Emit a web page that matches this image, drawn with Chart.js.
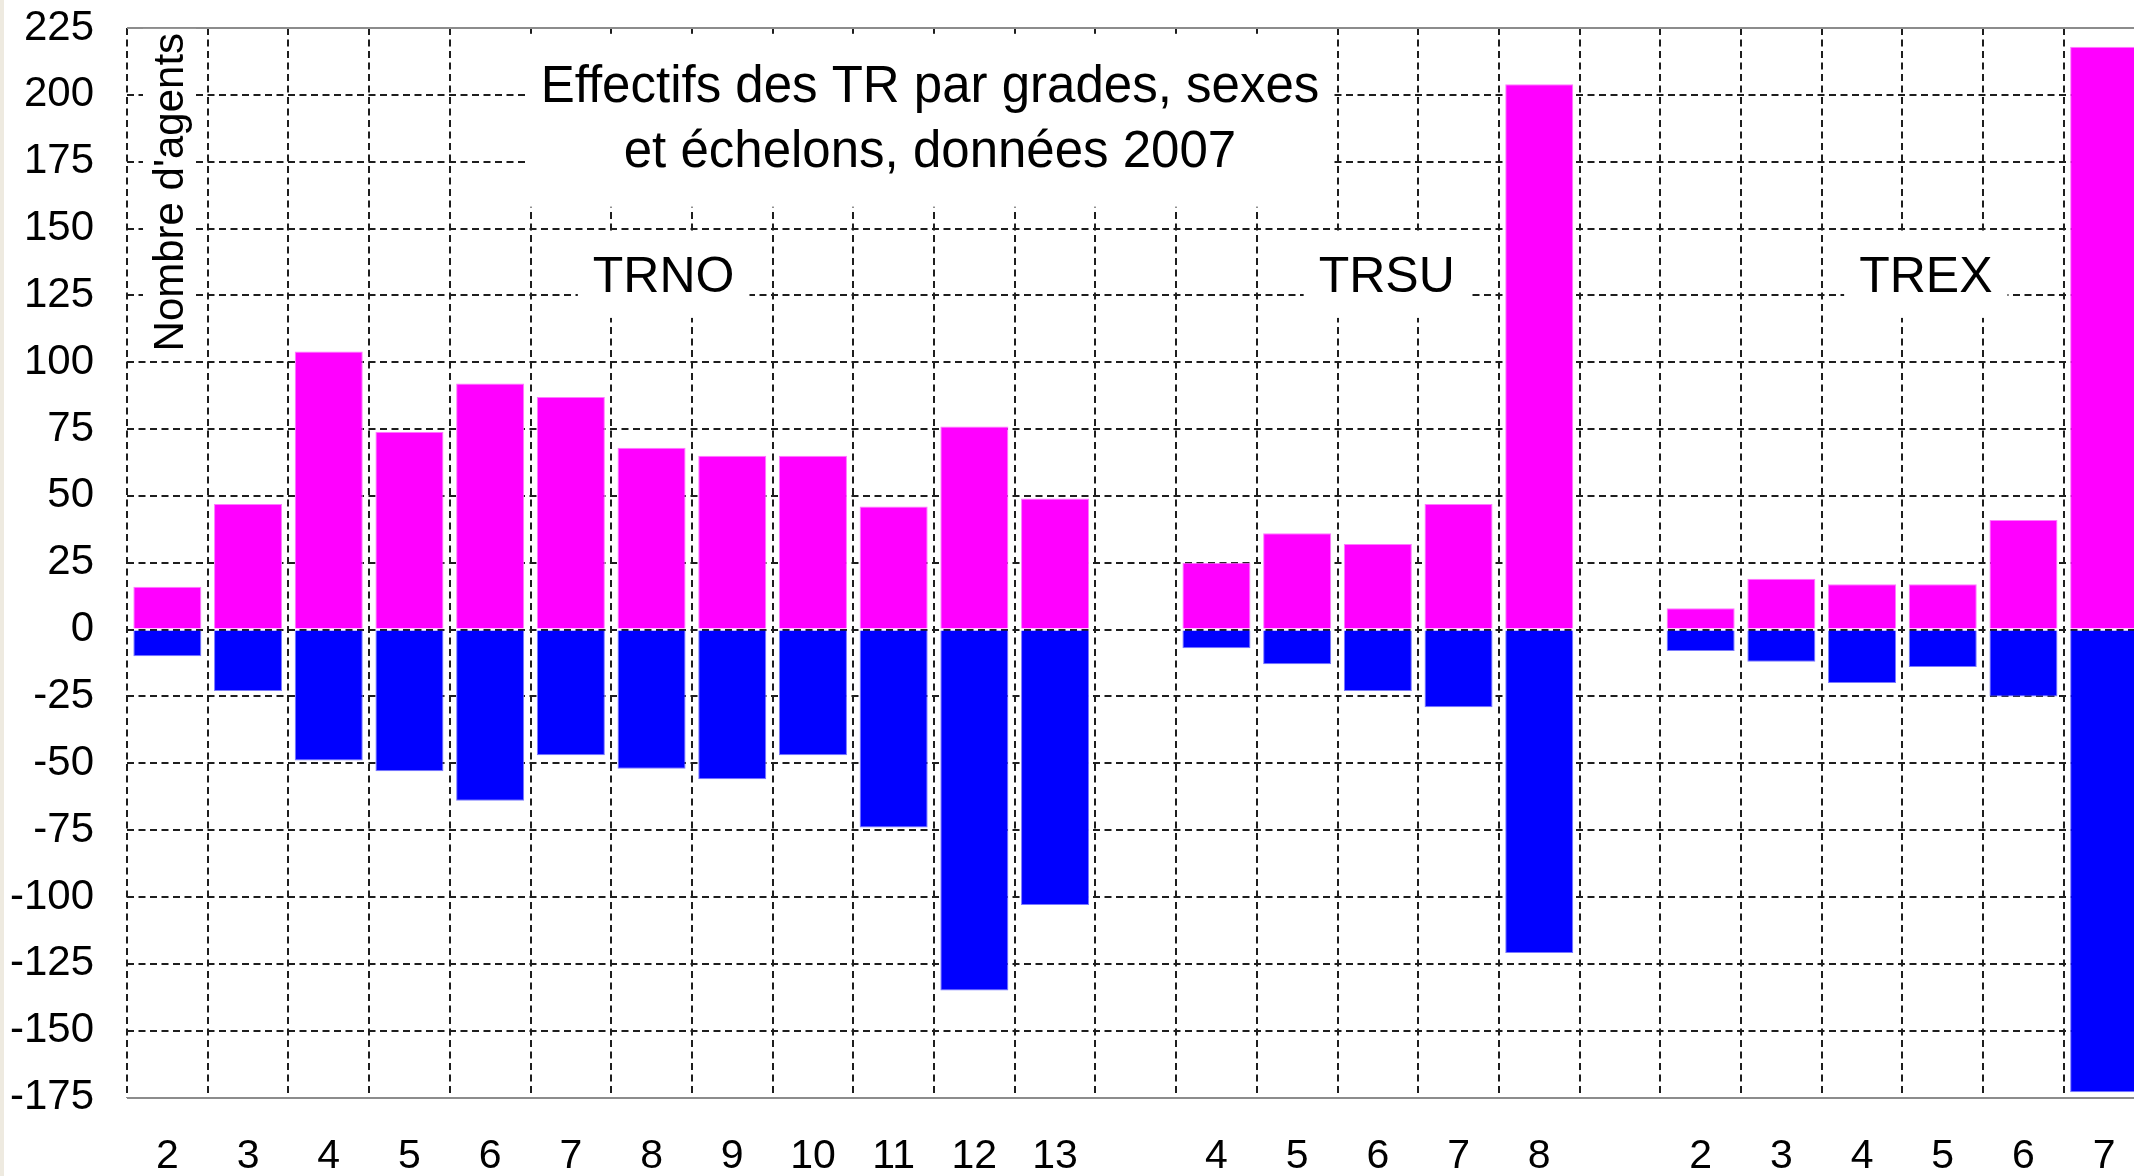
<!DOCTYPE html>
<html><head><meta charset="utf-8">
<script src="https://cdn.jsdelivr.net/npm/chart.js@4.4.1/dist/chart.umd.min.js"></script>
<style>
html,body{margin:0;padding:0;background:#fff;overflow:hidden;width:2134px;height:1176px;}
#strip{position:absolute;left:0;top:0;width:4px;height:1176px;background:#EEEAE0;}
#wrap{position:absolute;left:0;top:0;width:2150px;height:1176px;}
</style></head><body>
<div id="strip"></div>
<div id="wrap"><canvas id="c" width="2150" height="1176"></canvas></div>
<script>
// ---- data ----
const trnoGrades = ['2','3','4','5','6','7','8','9','10','11','12','13'];
const trsuGrades = ['4','5','6','7','8'];
const trexGrades = ['2','3','4','5','6','7'];
const trnoFemmes = [16, 47, 104, 74, 92, 87, 68, 65, 65, 46, 76, 49];
const trnoHommes = [-10, -23, -49, -53, -64, -47, -52, -56, -47, -74, -135, -103];
const trsuFemmes = [25, 36, 32, 47, 204];
const trsuHommes = [-7, -13, -23, -29, -121];
const trexFemmes = [8, 19, 17, 17, 41, 218];
const trexHommes = [-8, -12, -20, -14, -25, -173];
const groupNames = ['TRNO', 'TRSU', 'TREX'];
const titleLines = ['Effectifs des TR par grades, sexes', 'et échelons, données 2007'];
const yAxisTitle = "Nombre d'agents";
const yMin = -175, yMax = 225, yStep = 25;

// ---- build category table (one empty slot between groups) ----
const labels = [...trnoGrades, '', ...trsuGrades, '', ...trexGrades];
const femmes = [...trnoFemmes, null, ...trsuFemmes, null, ...trexFemmes];
const hommes = [...trnoHommes, null, ...trsuHommes, null, ...trexHommes];

const FONT = '"Liberation Sans", Arial, Helvetica, sans-serif';
const GRID = '#1e1e1e';
const DASH = [7, 4.5];

// annotation placement (category index / axis value)
const titlePos = {x: 9.45, y1: 197.4, y2: 173.1};
const groupPos = [{x: 6.15}, {x: 15.11}, {x: 21.79}];
const groupBaseline = 126.3;

const overlay = {
  id: 'overlay',
  beforeDatasetsDraw(chart) {
    const {ctx, scales: {x, y}, chartArea} = chart;
    ctx.save();
    // title block
    ctx.font = '51px ' + FONT;
    ctx.textAlign = 'center';
    ctx.textBaseline = 'alphabetic';
    const cx = x.getPixelForValue(titlePos.x);
    const b1 = y.getPixelForValue(titlePos.y1);
    const b2 = y.getPixelForValue(titlePos.y2);
    const w = Math.max(...titleLines.map(t => ctx.measureText(t).width));
    ctx.fillStyle = '#fff';
    ctx.fillRect(cx - w / 2 - 13, b1 - 68, w + 27, (b2 + 40) - (b1 - 68));
    ctx.fillStyle = '#000';
    ctx.fillText(titleLines[0], cx, b1);
    ctx.fillText(titleLines[1], cx, b2);
    // group labels
    ctx.font = '50px ' + FONT;
    const gb = y.getPixelForValue(groupBaseline);
    groupNames.forEach((g, i) => {
      const gx = x.getPixelForValue(groupPos[i].x);
      const gw = ctx.measureText(g).width;
      ctx.fillStyle = '#fff';
      ctx.fillRect(gx - gw / 2 - 15, gb - 60, gw + 30, 86);
      ctx.fillStyle = '#000';
      ctx.fillText(g, gx, gb);
    });
    // y axis title (inside plot, rotated)
    ctx.font = '42px ' + FONT;
    const tx = chartArea.left + 56;
    const ty = y.getPixelForValue(163.6);
    const tw = ctx.measureText(yAxisTitle).width;
    ctx.translate(tx, ty);
    ctx.rotate(-Math.PI / 2);
    ctx.fillStyle = '#fff';
    ctx.fillRect(-tw / 2 - 4, -40, tw + 8, 53);
    ctx.fillStyle = '#000';
    ctx.fillText(yAxisTitle, 0, 0);
    ctx.restore();
  }
};

const isEdge = c => c && c.tick && (c.tick.value === yMin || c.tick.value === yMax);

new Chart(document.getElementById('c'), {
  type: 'bar',
  data: {
    labels: labels,
    datasets: [
      {label: 'Femmes', data: femmes, backgroundColor: '#FF00FF', borderColor: '#FF7AFF', borderWidth: 1,
       barPercentage: 0.843, categoryPercentage: 1.0},
      {label: 'Hommes', data: hommes, backgroundColor: '#0000FF', borderColor: '#7A7AFF', borderWidth: 1,
       barPercentage: 0.843, categoryPercentage: 1.0}
    ]
  },
  options: {
    responsive: false,
    animation: false,
    devicePixelRatio: 1,
    layout: {padding: {top: 28, left: 0, right: 5.5, bottom: 0}},
    plugins: {legend: {display: false}, tooltip: {enabled: false}, title: {display: false}},
    scales: {
      x: {
        stacked: true,
        offset: true,
        grid: {color: GRID, lineWidth: 2, drawTicks: true, tickLength: 35, tickColor: 'rgba(0,0,0,0)', offset: true},
        border: {display: false, dash: DASH},
        ticks: {font: {family: FONT, size: 41}, color: '#000', padding: 0, autoSkip: false, maxRotation: 0},
        afterFit(s) { s.height = 78.5; }
      },
      y: {
        stacked: true,
        min: yMin, max: yMax,
        grid: {
          color: c => isEdge(c) ? '#8c8c8c' : GRID,
          lineWidth: c => isEdge(c) ? 2 : 2,
          drawTicks: true, tickLength: 33, tickColor: 'rgba(0,0,0,0)'
        },
        border: {display: false, dash: c => isEdge(c) ? [] : DASH},
        ticks: {stepSize: yStep, font: {family: FONT, size: 42}, color: '#000', padding: 0},
        afterFit(s) { s.width = 127; }
      }
    }
  },
  plugins: [overlay]
});
</script>
</body></html>
